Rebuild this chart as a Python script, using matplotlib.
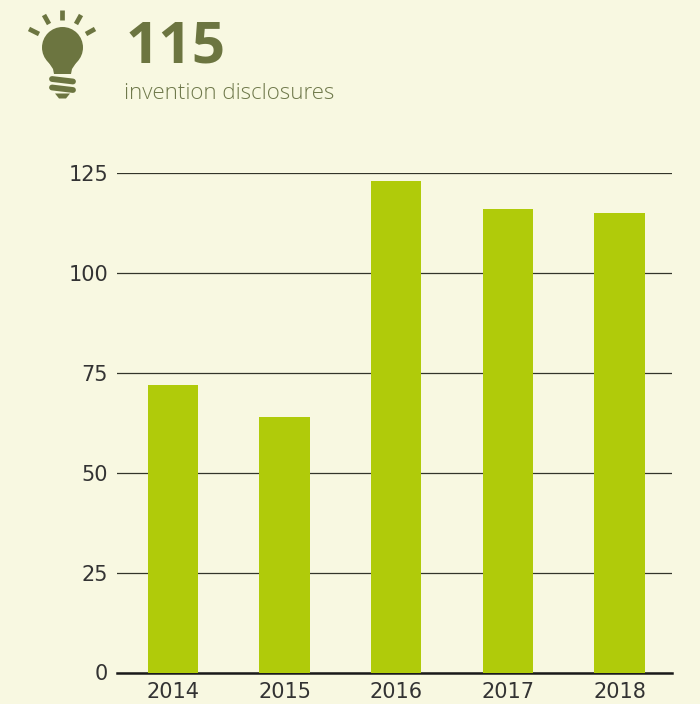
import matplotlib
matplotlib.use("Agg")
import matplotlib.pyplot as plt
from matplotlib.patches import Circle, Polygon

years = ["2014", "2015", "2016", "2017", "2018"]
disclosures = [72, 64, 123, 116, 115]
y_ticks = [0, 25, 50, 75, 100, 125]

BG = "#f8f8e1"
BAR = "#b0cb0a"
DARK = "#6c7540"
LIGHT = "#6f794b"
W, H = 700, 704

plt.rcParams["font.family"] = ["DejaVu Sans"]

fig = plt.figure(figsize=(W / 100, H / 100), dpi=100, facecolor=BG)

ax = fig.add_axes([117 / W, (H - 672.5) / H, 555 / W, 499 / H], facecolor=BG)
ax.bar(range(len(years)), disclosures, width=0.45, color=BAR, zorder=3)
ax.set_xlim(-0.5, 4.47)
ax.set_ylim(0, 125)
ax.set_xticks(range(len(years)))
ax.set_xticklabels(years)
ax.set_yticks(y_ticks)
ax.grid(axis="y", color="#33352a", linewidth=0.9, zorder=1)
ax.tick_params(axis="both", length=0, labelsize=15, labelcolor="#333333")
ax.tick_params(axis="x", pad=6.5)
ax.tick_params(axis="y", pad=6.5)
for s in ["top", "left", "right"]:
    ax.spines[s].set_visible(False)
ax.spines["bottom"].set_color("#1a1a1a")
ax.spines["bottom"].set_linewidth(1.8)
ax.spines["bottom"].set_zorder(2)

# header, drawn in pixel coordinates
top = fig.add_axes([0, 0, 1, 1], facecolor="none")
top.set_xlim(0, W)
top.set_ylim(H, 0)
top.axis("off")

top.add_patch(Circle((62.5, 47.5), 20.5, color=DARK, lw=0))
top.add_patch(Polygon([(43, 52), (47, 60), (53, 69), (54, 74), (71, 74),
                       (72, 69), (78, 60), (82, 52)], color=DARK, lw=0))
for x0, y0, x1, y1 in [(62.3, 10, 62.3, 20), (44, 15, 49, 24), (81, 15, 76, 24),
                       (29, 29, 39, 34), (95, 29, 86, 34)]:
    top.plot([x0, x1], [y0, y1], color=DARK, lw=3.4, solid_capstyle="butt")
for x0, y0, x1, y1 in [(52, 79, 73, 81.5), (52, 87.5, 73, 90)]:
    top.plot([x0, x1], [y0, y1], color=DARK, lw=4.2, solid_capstyle="round")
top.add_patch(Polygon([(55, 93.5), (70, 93.5), (66, 98.5), (59, 98.5)], color=DARK, lw=0))

top.text(126, 62.5, "115", fontsize=42, fontweight="bold", family=["Open Sans", "DejaVu Sans"],
         color=DARK, va="baseline", ha="left")
top.text(124, 99, "invention disclosures", fontsize=16, fontweight="light",
         family=["Open Sans", "DejaVu Sans"], color=LIGHT, va="baseline", ha="left")

fig.savefig("out.png", dpi=100, facecolor=BG)
